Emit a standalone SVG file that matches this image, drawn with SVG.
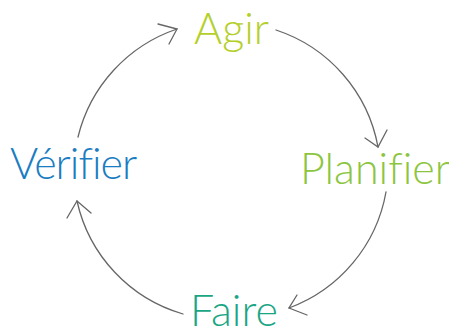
<svg xmlns="http://www.w3.org/2000/svg" width="449" height="326" viewBox="0 0 449 326">
  <style>
    .lbl { font-family: Lato, "Liberation Sans", sans-serif; font-weight: 300; font-size: 43px; font-variant-ligatures: none; font-feature-settings: "liga" 0; }
    .arc { fill: none; stroke: #666; stroke-width: 1.3; stroke-linecap: round; }
  </style>
  <rect width="449" height="326" fill="#fff"/>
  <g id="agir"><text class="lbl" x="194" y="44" fill="#b4cf2a">Agir</text></g>
  <g id="planifier"><text class="lbl" x="300" y="184" fill="#8cc540">Planifier</text></g>
  <g id="faire"><text class="lbl" x="190" y="326" fill="#1aa685">Faire</text></g>
  <g id="verifier"><text class="lbl" x="10" y="179" fill="#1b7dc1" letter-spacing="-1">Vérifier</text></g>
  <g id="connectors">
    <path class="arc" d="M78 137 A152 152 0 0 1 177 29"/>
    <path class="arc" d="M158 24 L177 29 L169 44"/>
    <path class="arc" d="M276 30 A152 152 0 0 1 378 147"/>
    <path class="arc" d="M365 138 L378 147 L387 130"/>
    <path class="arc" d="M386 192 A152 152 0 0 1 289 308"/>
    <path class="arc" d="M297 295 L289 308 L307 315"/>
    <path class="arc" d="M183 314 A152 152 0 0 1 77 201"/>
    <path class="arc" d="M67 218 L77 201 L91 213"/>
  </g>
</svg>
